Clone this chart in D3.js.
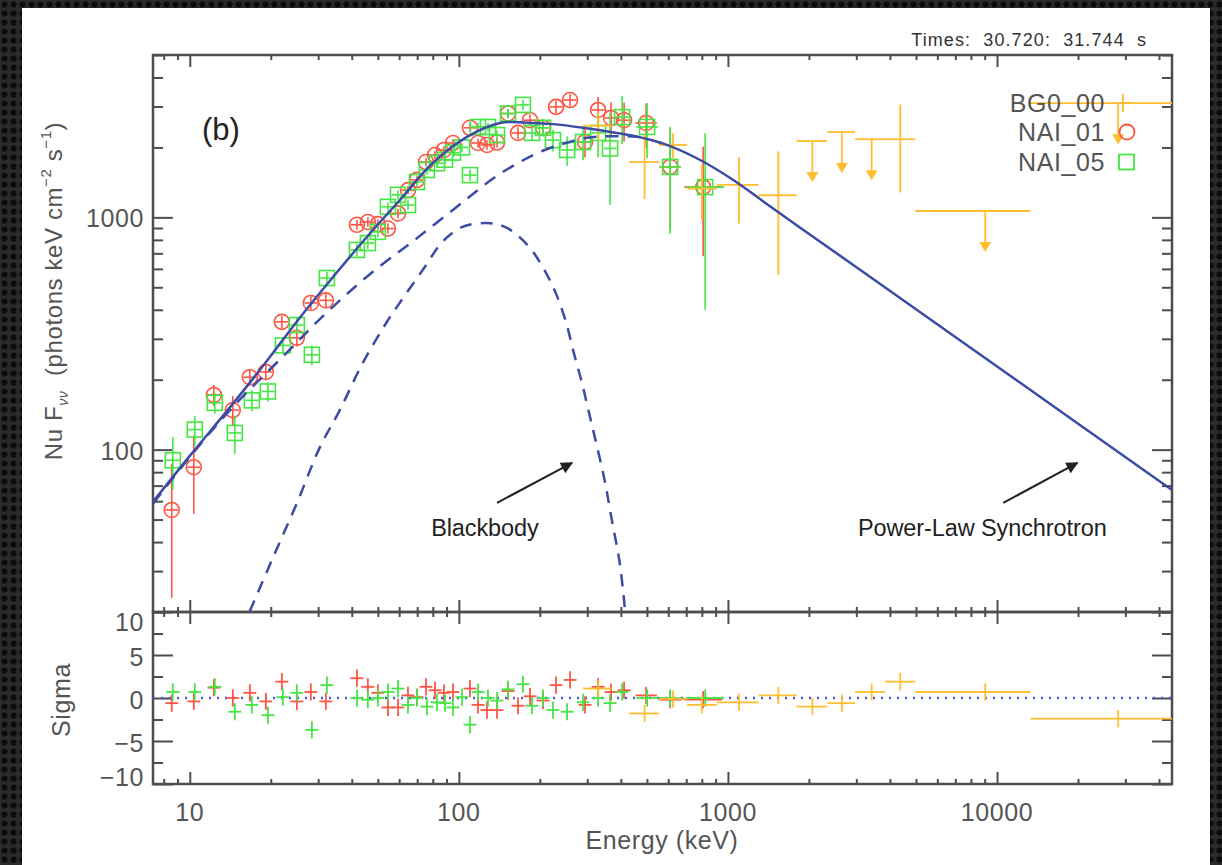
<!DOCTYPE html>
<html>
<head>
<meta charset="utf-8">
<script src="https://cdn.jsdelivr.net/npm/d3@7"></script>
<style>
  body { margin: 0; background: #222; }
  text { font-family: "Liberation Sans", Arial, sans-serif; }
</style>
</head>
<body>
<svg id="chart" width="1222" height="865"></svg>
<script>
// ---- data ----
// NAI_01 (red circles)
const redE   = [8.57,10.35,12.29,14.45,16.72,19.17,21.99,25.0,28.18,32.05,41.8,45.9,50.0,54.5,59.4,64.7,69.9,75.5,81.5,88.0,95.1,110,117.8,127.2,138.6,152.3,165.9,183.9,205.5,229.7,259,294.4,329.2,367.9,411.2,496.5,609.8,808.8];
const redF   = [55,84,172,148,205,216,355,303,428,439,929,955,935,895,1040,1310,1450,1730,1855,1950,2090,2430,2090,2050,2100,2800,2310,2620,2430,2990,3200,2110,2900,2680,2620,2550,1650,1350];
const redErr = [32,31,18,22,16,16,22,25,28,30,45,45,45,45,50,55,60,65,70,75,80,90,90,95,100,120,130,150,170,190,200,300,400,450,500,550,770,670];
const redRes = [-0.6,-0.4,1.2,0.0,0.6,-0.4,1.9,-0.4,0.7,-0.4,2.3,1.3,0.6,-1.1,-1.1,0.3,0.1,1.3,0.9,0.6,0.7,1.1,-0.8,-1.4,-1.4,0.8,-0.9,0.2,-0.3,1.5,2.1,-0.8,1.3,0.7,0.9,0.3,-0.2,-0.2];

// NAI_05 (green squares)
const greenE   = [8.65,10.44,12.39,14.70,17.01,19.51,22.18,25.0,28.43,32.33,41.8,45.9,50.0,54.5,59.4,64.7,69.9,76.1,82.9,88.8,95.1,102.7,110,117.8,128.3,138.6,152.3,173.1,187.0,205.5,223.8,252.5,289.4,329.2,364.7,404.3,500.8,609.8,822.8];
const greenF   = [90,122,159,118,163,178,281,344,256,548,724,775,866,1110,1250,1130,1420,1600,1710,1770,1900,2000,1520,2450,2450,2260,2800,3050,2310,2430,2150,1950,2110,2310,1980,2700,2450,1650,1350];
const greenErr = [23,18,16,22,17,17,22,25,25,35,45,45,45,50,55,55,60,65,70,75,80,85,85,95,100,110,130,150,170,200,230,280,350,500,850,630,650,800,950];
const greenRes = [0.7,0.7,1.3,-1.6,-0.8,-2.0,0.1,0.6,-3.7,1.5,0.0,-0.2,0.0,0.7,1.1,-0.8,0.0,-1.0,-0.5,-0.6,-1.1,0.1,-3.1,0.7,0.0,-0.3,1.0,1.6,-0.9,0.0,-1.4,-1.6,-0.5,0.0,-0.6,0.7,0.0,0.0,0.0];

// BG0_00 (orange crosses, some upper limits)
const bgoE   = [330, 490, 625, 800, 1100, 1540, 2060, 2650, 3420, 4370, 9040, 28200];
const bgoLo  = [290, 430, 555, 705, 910, 1300, 1800, 2340, 2970, 3840, 4970, 13300];
const bgoHi  = [370, 555, 705, 910, 1300, 1800, 2340, 2970, 3840, 4970, 13300, 45000];
const bgoF   = [2480, 1730, 2050, 1330, 1380, 1245, 2130, 2330, 2170, 2170, 1065, 3100];
const bgoErr = [350, 530, 250, 350, 440, 680, 0, 0, 0, 890, 0, 0];
const bgoUL  = [0, 0, 0, 0, 0, 0, 1, 1, 1, 0, 1, 1];
const bgoRes = [1.1, -1.8, -0.1, -0.8, -0.5, 0.3, -1.0, -0.6, 0.7, 1.9, 0.7, -2.4];

// model curves
const totalE = [7.3, 10, 14.1, 19.3, 25.6, 34.0, 45.5, 60.4, 80.1, 107.2, 142.1, 188, 224, 290, 386, 470, 593, 785, 1040, 1390, 1850, 3300, 11400, 44700];
const totalF = [59.6, 94, 152, 240, 369, 552, 823, 1188, 1715, 2219, 2550, 2550, 2520, 2430, 2310, 2215, 2050, 1770, 1455, 1145, 905, 565, 205, 67];
const plE = [7.3, 10, 14.1, 22.6, 31.8, 46.7, 69.9, 107, 134, 164, 205, 300, 400, 470, 593];
const plF = [58.5, 93, 148, 257, 383, 569, 814, 1200, 1470, 1700, 1935, 2200, 2235, 2215, 2050];
const bbE = [16.7, 20.4, 25.0, 30.4, 36.1, 43.6, 53.2, 62.4, 74.7, 86.6, 102.6, 128, 151, 180, 205, 229, 250, 267, 286, 306, 325, 348, 370, 397, 415];
const bbF = [20.1, 34.4, 58.8, 102, 148, 232, 345, 454, 611, 782, 907, 945, 900, 760, 611, 473, 355, 263, 196, 141, 105, 74, 50, 32, 20];

const xTickLabels = [10, 100, 1000, 10000];
const yTickLabels = [100, 1000];
const sigmaTicks = [-10, -5, 0, 5, 10];
const sigmaMinor = [-7.5, -2.5, 2.5, 7.5];
const legendNames = ["BG0_00", "NAI_01", "NAI_05"];

// ---- layout ----
const W = 1222, H = 865;
const pL = 153, pR = 1172, pT = 55, pM = 612, pB = 784;
const axisColor = "#4d4d4d", textColor = "#555";
const red = "#ff5544", green = "#44e644", orange = "#ffbd30", blue = "#3c4ca4";

const svg = d3.select("#chart");
const defs = svg.append("defs");
const pat = defs.append("pattern").attr("id", "mesh")
  .attr("width", 9).attr("height", 9).attr("patternUnits", "userSpaceOnUse");
pat.append("rect").attr("width", 9).attr("height", 9).attr("fill", "#2a2a2a");
pat.append("circle").attr("cx", 4.5).attr("cy", 4.5).attr("r", 3.1).attr("fill", "#0c0c0c");
defs.append("clipPath").attr("id", "clipTop").append("rect")
  .attr("x", pL).attr("y", pT).attr("width", pR - pL).attr("height", pM - pT);
defs.append("clipPath").attr("id", "clipBot").append("rect")
  .attr("x", pL).attr("y", pM).attr("width", pR - pL).attr("height", pB - pM);
defs.append("marker").attr("id", "arrow").attr("viewBox", "0 0 10 10")
  .attr("refX", 9).attr("refY", 5).attr("markerWidth", 14).attr("markerHeight", 12)
  .attr("markerUnits", "userSpaceOnUse").attr("orient", "auto")
  .append("path").attr("d", "M0,0L10,5L0,10z").attr("fill", "#222");

svg.append("rect").attr("width", W).attr("height", H).attr("fill", "url(#mesh)");
svg.append("rect").attr("x", 22).attr("y", 8).attr("width", 1188).attr("height", H - 8).attr("fill", "#fff");

const x = d3.scaleLog().domain([7.3, 44700]).range([pL, pR]);
const y = d3.scaleLog().domain([20, 5000]).range([pM, pT]);
const ys = d3.scaleLinear().domain([-10, 10]).range([pB, pM]);

// ---- axes ----
const xMinor = x.ticks().filter(v => !xTickLabels.includes(v));
const yMinor = y.ticks().filter(v => !yTickLabels.includes(v));

function ticksX(yPos, dir) {
  [[xTickLabels, 12], [xMinor, 5]].forEach(([vals, len]) => {
    const g = svg.append("g").attr("transform", `translate(0,${yPos})`).attr("color", axisColor)
      .call(d3.axisBottom(x).tickValues(vals).tickSize(len * dir).tickSizeOuter(0).tickFormat(""));
    g.select(".domain").remove();
    g.selectAll("line").attr("stroke-width", 2);
  });
}
function ticksY(scale, major, minor, xPos, dir) {
  [[major, 20], [minor, 10]].forEach(([vals, len]) => {
    const g = svg.append("g").attr("transform", `translate(${xPos},0)`).attr("color", axisColor)
      .call(d3.axisRight(scale).tickValues(vals).tickSize(len * dir).tickSizeOuter(0).tickFormat(""));
    g.select(".domain").remove();
    g.selectAll("line").attr("stroke-width", 2);
  });
}
ticksX(pT, 1); ticksX(pM, -1); ticksX(pM, 1); ticksX(pB, -1);
ticksY(y, yTickLabels, yMinor, pL, 1); ticksY(y, yTickLabels, yMinor, pR, -1);
ticksY(ys, sigmaTicks, sigmaMinor, pL, 1); ticksY(ys, sigmaTicks, sigmaMinor, pR, -1);

[[pT, pM], [pM, pB]].forEach(([a, b]) => {
  svg.append("rect").attr("x", pL).attr("y", a).attr("width", pR - pL).attr("height", b - a)
    .attr("fill", "none").attr("stroke", axisColor).attr("stroke-width", 2.5);
});

const label = (sel) => sel.attr("font-size", 25).attr("letter-spacing", 0.6).attr("fill", textColor);
svg.selectAll(".xl").data(xTickLabels).enter().append("text")
  .attr("x", d => x(d)).attr("y", 812).attr("text-anchor", "middle").attr("dominant-baseline", "central")
  .text(d => d).call(label);
svg.selectAll(".yl").data(yTickLabels).enter().append("text")
  .attr("x", 144).attr("y", d => y(d) + 1).attr("text-anchor", "end").attr("dominant-baseline", "central")
  .text(d => d).call(label);
svg.selectAll(".sl").data(sigmaTicks).enter().append("text")
  .attr("x", 144).attr("y", d => ys(d) + (d === 10 ? 10 : d === -10 ? -7 : 2))
  .attr("text-anchor", "end").attr("dominant-baseline", "central")
  .text(d => d < 0 ? "\u2212" + Math.abs(d) : d).call(label);

svg.append("text").attr("x", 662).attr("y", 840).attr("text-anchor", "middle")
  .attr("dominant-baseline", "central").text("Energy (keV)").call(label);
svg.append("text").attr("transform", "translate(70,700) rotate(-90)").attr("text-anchor", "middle")
  .text("Sigma").call(label);
const yl = svg.append("text").attr("transform", "translate(62,291) rotate(-90)")
  .attr("text-anchor", "middle").call(label).attr("font-size", 24).attr("letter-spacing", 0.6)
  .attr("xml:space", "preserve");
yl.append("tspan").text("Nu F");
yl.append("tspan").text("\u03bd\u03bd").attr("font-size", 14).attr("font-style", "italic").attr("dy", 6);
yl.append("tspan").text("  (photons keV cm").attr("dy", -6);
yl.append("tspan").text("\u22122").attr("font-size", 15).attr("dy", -11);
yl.append("tspan").text(" s").attr("dy", 11);
yl.append("tspan").text("\u22121").attr("font-size", 15).attr("dy", -11);
yl.append("tspan").text(")").attr("dy", 11);

svg.append("text").attr("x", 1147).attr("y", 46).attr("text-anchor", "end")
  .attr("font-size", 18).attr("letter-spacing", 1.1).attr("word-spacing", 6)
  .attr("fill", "#333").text("Times: 30.720: 31.744 s");
svg.append("text").attr("x", 202).attr("y", 140).attr("font-size", 31).attr("fill", "#222").text("(b)");

// ---- data ----
const gTop = svg.append("g").attr("clip-path", "url(#clipTop)");
const gBot = svg.append("g").attr("clip-path", "url(#clipBot)");

gBot.append("line").attr("x1", pL).attr("x2", pR).attr("y1", ys(0)).attr("y2", ys(0))
  .attr("stroke", "#4a5ad0").attr("stroke-width", 2.5).attr("stroke-dasharray", "2,6");

const binDex = e => e > 700 ? 0.07 : e > 450 ? 0.04 : 0.024;

function naiSeries(E, F, Err, Res, color, shape) {
  const pts = E.map((e, i) => ({ e, f: F[i], err: Err[i], r: Res[i], lo: e / 10 ** binDex(e), hi: e * 10 ** binDex(e) }));
  const g = gTop.append("g").attr("stroke", color).attr("stroke-width", 1.6).attr("fill", "none");
  g.selectAll(".v").data(pts).enter().append("line")
    .attr("x1", d => x(d.e)).attr("x2", d => x(d.e))
    .attr("y1", d => y(Math.max(d.f - d.err, 1))).attr("y2", d => y(d.f + d.err));
  g.selectAll(".h").data(pts).enter().append("line")
    .attr("x1", d => x(d.lo)).attr("x2", d => x(d.hi)).attr("y1", d => y(d.f)).attr("y2", d => y(d.f));
  if (shape === "circle") {
    g.selectAll(".m").data(pts).enter().append("circle")
      .attr("cx", d => x(d.e)).attr("cy", d => y(d.f)).attr("r", 7.5);
  } else {
    g.selectAll(".m").data(pts).enter().append("rect")
      .attr("x", d => x(d.e) - 7.5).attr("y", d => y(d.f) - 7.5).attr("width", 15).attr("height", 15);
  }
  const b = gBot.append("g").attr("stroke", color).attr("stroke-width", 1.8);
  b.selectAll(".v").data(pts).enter().append("line")
    .attr("x1", d => x(d.e)).attr("x2", d => x(d.e)).attr("y1", d => ys(d.r - 1)).attr("y2", d => ys(d.r + 1));
  b.selectAll(".h").data(pts).enter().append("line")
    .attr("x1", d => x(d.lo)).attr("x2", d => x(d.hi)).attr("y1", d => ys(d.r)).attr("y2", d => ys(d.r));
}
naiSeries(redE, redF, redErr, redRes, red, "circle");
naiSeries(greenE, greenF, greenErr, greenRes, green, "square");

const bgo = bgoE.map((e, i) => ({ e, lo: bgoLo[i], hi: bgoHi[i], f: bgoF[i], err: bgoErr[i], ul: bgoUL[i], r: bgoRes[i] }));
const gb = gTop.append("g").attr("stroke", orange).attr("stroke-width", 1.8);
gb.selectAll(".h").data(bgo).enter().append("line")
  .attr("x1", d => x(d.lo)).attr("x2", d => x(d.hi)).attr("y1", d => y(d.f)).attr("y2", d => y(d.f));
gb.selectAll(".v").data(bgo.filter(d => !d.ul)).enter().append("line")
  .attr("x1", d => x(d.e)).attr("x2", d => x(d.e))
  .attr("y1", d => y(d.f - d.err)).attr("y2", d => y(d.f + d.err));
gb.selectAll(".a").data(bgo.filter(d => d.ul)).enter().append("line")
  .attr("x1", d => x(d.e)).attr("x2", d => x(d.e)).attr("y1", d => y(d.f)).attr("y2", d => y(d.f) + 33);
gTop.selectAll(".tri").data(bgo.filter(d => d.ul)).enter().append("path")
  .attr("d", d => `M${x(d.e) - 6},${y(d.f) + 31}L${x(d.e) + 6},${y(d.f) + 31}L${x(d.e)},${y(d.f) + 41}Z`)
  .attr("fill", orange);
const bb = gBot.append("g").attr("stroke", orange).attr("stroke-width", 1.8);
bb.selectAll(".h").data(bgo).enter().append("line")
  .attr("x1", d => x(d.lo)).attr("x2", d => x(d.hi)).attr("y1", d => ys(d.r)).attr("y2", d => ys(d.r));
bb.selectAll(".v").data(bgo).enter().append("line")
  .attr("x1", d => x(d.e)).attr("x2", d => x(d.e)).attr("y1", d => ys(d.r - 1)).attr("y2", d => ys(d.r + 1));

// ---- model curves ----
const line = d3.line().x(d => x(d[0])).y(d => y(d[1])).curve(d3.curveCatmullRom.alpha(0.5));
gTop.append("path").datum(d3.zip(plE, plF)).attr("d", line).attr("fill", "none")
  .attr("stroke", blue).attr("stroke-width", 2.5).attr("stroke-dasharray", "13,9");
gTop.append("path").datum(d3.zip(bbE, bbF)).attr("d", line).attr("fill", "none")
  .attr("stroke", blue).attr("stroke-width", 2.5).attr("stroke-dasharray", "12,9");
gTop.append("path").datum(d3.zip(totalE, totalF)).attr("d", line).attr("fill", "none")
  .attr("stroke", blue).attr("stroke-width", 2.5);

// ---- annotations ----
const notes = [
  { text: "Blackbody", tx: 125, from: [138.6, 59], to: [263.4, 87.7] },
  { text: "Power-Law Synchrotron", tx: 8817, from: [10550, 59], to: [19890, 87.7] }
];
notes.forEach(n => {
  svg.append("line").attr("x1", x(n.from[0])).attr("y1", y(n.from[1]))
    .attr("x2", x(n.to[0])).attr("y2", y(n.to[1]))
    .attr("stroke", "#222").attr("stroke-width", 2).attr("marker-end", "url(#arrow)");
  svg.append("text").attr("x", x(n.tx)).attr("y", y(42.5)).attr("text-anchor", "middle")
    .attr("font-family", "Open Sans, sans-serif").attr("font-size", 23.5).attr("letter-spacing", -0.1)
    .attr("fill", "#222").text(n.text);
});

// ---- legend ----
const legY = [103, 132, 162];
svg.selectAll(".lg").data(legendNames).enter().append("text")
  .attr("x", 1105).attr("y", (d, i) => legY[i]).attr("text-anchor", "end").attr("dominant-baseline", "central")
  .text(d => d).call(label);
svg.append("path").attr("d", `M1114,${legY[0]}h18M1123,${legY[0] - 9}v18`).attr("stroke", orange).attr("stroke-width", 1.8);
svg.append("circle").attr("cx", 1127).attr("cy", legY[1]).attr("r", 7.5).attr("fill", "none").attr("stroke", red).attr("stroke-width", 1.8);
svg.append("rect").attr("x", 1119).attr("y", legY[2] - 7.5).attr("width", 15).attr("height", 15)
  .attr("fill", "none").attr("stroke", green).attr("stroke-width", 1.8);
</script>
</body>
</html>
